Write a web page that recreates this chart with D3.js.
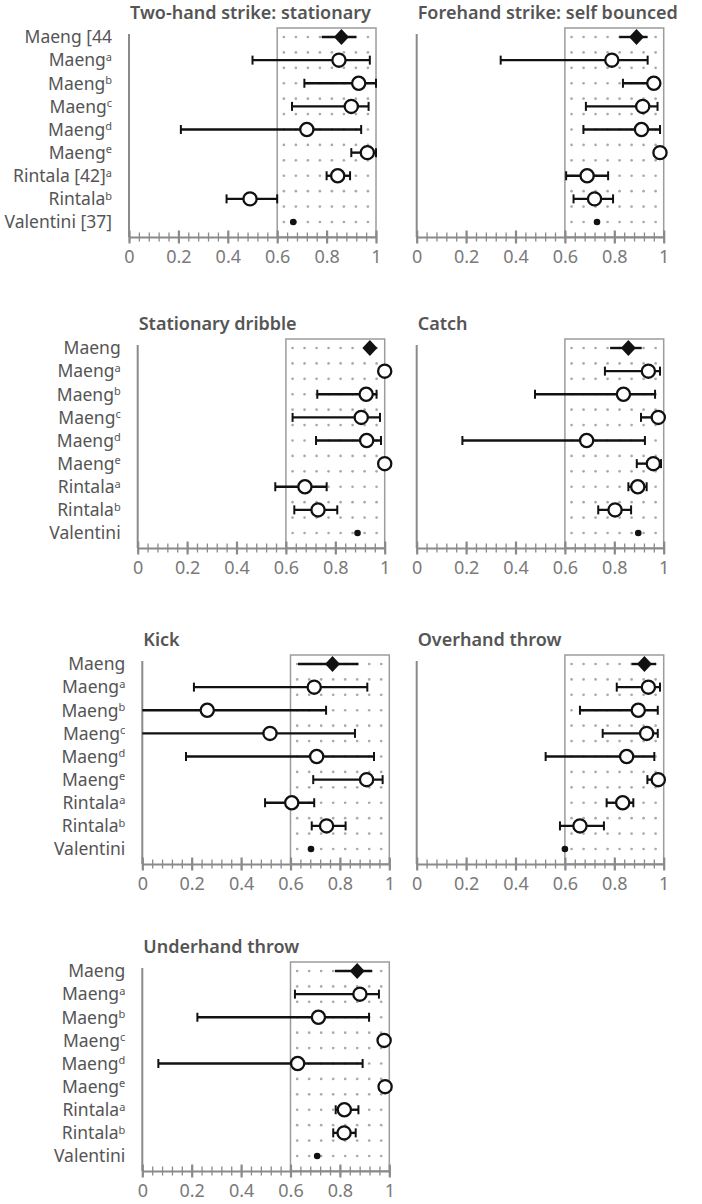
<!DOCTYPE html>
<html>
<head>
<meta charset="utf-8">
<script src="https://cdn.jsdelivr.net/npm/d3@7"></script>
<style>
  html, body { margin: 0; padding: 0; background: #fff; }
  svg { display: block; }
  text { font-family: "Noto Sans", "Open Sans", sans-serif; }
</style>
</head>
<body>
<svg id="chart" width="702" height="1204"></svg>
<script>
// ---------- DATA ----------
const panelTitles = [
  "Two-hand strike: stationary",
  "Forehand strike: self bounced",
  "Stationary dribble",
  "Catch",
  "Kick",
  "Overhand throw",
  "Underhand throw"
];
const labelBaseFirst = ["Maeng [44", "Maeng", "Maeng", "Maeng", "Maeng", "Maeng", "Rintala [42]", "Rintala", "Valentini [37]"];
const labelBaseOther = ["Maeng", "Maeng", "Maeng", "Maeng", "Maeng", "Maeng", "Rintala", "Rintala", "Valentini"];
const labelSup = ["", "a", "b", "c", "d", "e", "a", "b", ""];
const markType = ["diamond", "circle", "circle", "circle", "circle", "circle", "circle", "circle", "dot"];
const tickLabels = [0, 0.2, 0.4, 0.6, 0.8, 1];

// estimates per panel (rows: Maeng, Maeng a–e, Rintala a, Rintala b, Valentini)
const estimates = [
  [0.86, 0.85, 0.93, 0.90, 0.72, 0.965, 0.845, 0.49, 0.665],
  [0.89, 0.79, 0.96, 0.915, 0.91, 0.985, 0.69, 0.72, 0.73],
  [0.94, 1.0, 0.925, 0.905, 0.927, 1.0, 0.677, 0.73, 0.89],
  [0.857, 0.938, 0.837, 0.978, 0.688, 0.958, 0.895, 0.803, 0.897],
  [0.77, 0.696, 0.263, 0.517, 0.706, 0.908, 0.605, 0.746, 0.683],
  [0.922, 0.938, 0.897, 0.931, 0.85, 0.978, 0.834, 0.661, 0.60],
  [0.87, 0.881, 0.713, 0.979, 0.629, 0.983, 0.818, 0.817, 0.708]
];
const lowerCI = [
  [0.78, 0.50, 0.71, 0.66, 0.21, 0.90, 0.80, 0.395, null],
  [0.82, 0.34, 0.835, 0.685, 0.675, null, 0.605, 0.635, null],
  [null, null, 0.727, 0.627, 0.722, null, 0.557, 0.634, null],
  [0.783, 0.762, 0.479, 0.908, 0.185, 0.891, 0.857, 0.735, null],
  [0.63, 0.209, 0, 0, 0.177, 0.692, 0.497, 0.686, null],
  [0.87, 0.81, 0.661, 0.753, 0.522, 0.934, 0.769, 0.58, null],
  [0.78, 0.618, 0.223, null, 0.065, null, 0.783, 0.773, null]
];
const upperCI = [
  [0.92, 0.975, 1.0, 0.97, 0.94, 1.0, 0.895, 0.60, null],
  [0.935, 0.935, 0.98, 0.975, 0.985, null, 0.775, 0.795, null],
  [null, null, 0.967, 0.981, 0.985, null, 0.765, 0.808, null],
  [0.911, 0.985, 0.965, 0.995, 0.924, 0.989, 0.931, 0.868, null],
  [0.875, 0.911, 0.744, 0.861, 0.938, 0.973, 0.696, 0.823, null],
  [0.969, 0.985, 0.976, 0.976, 0.962, 0.99, 0.877, 0.758, null],
  [0.931, 0.958, 0.918, null, 0.892, null, 0.875, 0.864, null]
];

// ---------- LAYOUT ----------
const rowAxisY = [237, 548, 864, 1171];
const leftX0 = [129, 137.7, 142.3, 142.3];
const rightX0 = 416.7;
const scaleWidth = 247;

const svg = d3.select("#chart");
const AXIS = "#8a8a8a", BOX = "#9c9c9c", DOT = "#aaaaaa", INK = "#111", TXT = "#555";

panelTitles.forEach((title, p) => {
  const row = Math.floor(p / 2), col = p % 2;
  const axisY = rowAxisY[row];
  const x0 = col === 0 ? leftX0[row] : rightX0;
  const x = d3.scaleLinear().domain([0, 1]).range([x0, x0 + scaleWidth]);
  const idx = d3.range(estimates[p].length);
  const y = d3.scalePoint().domain(idx).range([axisY - 200, axisY - 15]);
  const g = svg.append("g");

  // title
  g.append("text").attr("x", x0 + 1).attr("y", axisY - 218)
    .attr("font-size", 18).attr("font-weight", 600).attr("fill", TXT)
    .text(title);

  // reference box 0.6–1
  const boxTop = axisY - 209;
  g.append("rect").attr("x", x(0.6)).attr("y", boxTop)
    .attr("width", x(1) - x(0.6)).attr("height", axisY - boxTop)
    .attr("fill", "none").attr("stroke", BOX).attr("stroke-width", 1.5);

  // dot grid inside box
  const gx = d3.range(8).map(i => 0.627 + i * 0.0486);
  const gy = d3.scaleLinear().domain([0, 12]).range([y(0), y(8)]);
  const grid = [];
  d3.range(13).forEach(r => gx.forEach(v => grid.push([v, r])));
  g.append("g").selectAll("circle").data(grid).join("circle")
    .attr("cx", d => x(d[0])).attr("cy", d => gy(d[1])).attr("r", 1.35).attr("fill", DOT);

  // vertical axis line
  g.append("line").attr("x1", x0).attr("x2", x0)
    .attr("y1", y(0) - 3).attr("y2", axisY)
    .attr("stroke", AXIS).attr("stroke-width", 2);

  // minor ticks
  const minor = g.append("g").attr("transform", `translate(0,${axisY})`)
    .call(d3.axisBottom(x).tickValues(d3.range(0, 1.0001, 0.04)).tickFormat("").tickSizeOuter(0));
  minor.select(".domain").attr("stroke", AXIS).attr("stroke-width", 2);
  minor.selectAll(".tick line").attr("y1", -4.5).attr("y2", 4.5).attr("stroke", AXIS).attr("stroke-width", 1.3);

  // major ticks
  const major = g.append("g").attr("transform", `translate(0,${axisY})`)
    .call(d3.axisBottom(x).tickValues(tickLabels).tickFormat(d3.format("~g")).tickSizeOuter(0));
  major.select(".domain").remove();
  major.selectAll(".tick line").attr("y1", -6.5).attr("y2", 6.5).attr("stroke", AXIS).attr("stroke-width", 2.2);
  major.selectAll(".tick text").attr("y", 26).attr("dy", null)
    .attr("font-size", 18).attr("fill", "#7a7a7a").attr("font-family", "'Noto Sans', sans-serif");

  // row labels (left column only)
  if (col === 0) {
    const bases = p === 0 ? labelBaseFirst : labelBaseOther;
    const lab = g.append("g").selectAll("text").data(idx).join("text")
      .attr("x", x0 - 17).attr("y", i => y(i)).attr("dy", "0.36em")
      .attr("text-anchor", "end").attr("font-size", 17.5).attr("fill", TXT);
    lab.append("tspan").text(i => bases[i]);
    lab.append("tspan").attr("font-size", 11).attr("dy", "-0.5em").text(i => labelSup[i]);
  }

  // error bars
  const withCI = idx.filter(i => lowerCI[p][i] !== null && upperCI[p][i] !== null);
  g.append("g").selectAll("line").data(withCI).join("line")
    .attr("x1", i => x(lowerCI[p][i])).attr("x2", i => x(upperCI[p][i]))
    .attr("y1", i => y(i)).attr("y2", i => y(i))
    .attr("stroke", INK).attr("stroke-width", 2.4);
  const caps = [];
  withCI.filter(i => markType[i] === "circle").forEach(i => {
    if (lowerCI[p][i] > 0) caps.push([lowerCI[p][i], i]);
    caps.push([upperCI[p][i], i]);
  });
  g.append("g").selectAll("line").data(caps).join("line")
    .attr("x1", d => x(d[0])).attr("x2", d => x(d[0]))
    .attr("y1", d => y(d[1]) - 4.5).attr("y2", d => y(d[1]) + 4.5)
    .attr("stroke", INK).attr("stroke-width", 2);

  // markers
  const diamondPath = "M0,-8L7.5,0L0,8L-7.5,0Z";
  g.append("g").selectAll("path").data(idx.filter(i => markType[i] === "diamond")).join("path")
    .attr("d", diamondPath).attr("transform", i => `translate(${x(estimates[p][i])},${y(i)})`)
    .attr("fill", INK);
  g.append("g").selectAll("circle").data(idx.filter(i => markType[i] === "circle")).join("circle")
    .attr("cx", i => x(estimates[p][i])).attr("cy", i => y(i)).attr("r", 6.6)
    .attr("fill", "#fff").attr("stroke", INK).attr("stroke-width", 2.3);
  g.append("g").selectAll("circle").data(idx.filter(i => markType[i] === "dot")).join("circle")
    .attr("cx", i => x(estimates[p][i])).attr("cy", i => y(i)).attr("r", 3.3)
    .attr("fill", INK);
});
</script>
</body>
</html>
